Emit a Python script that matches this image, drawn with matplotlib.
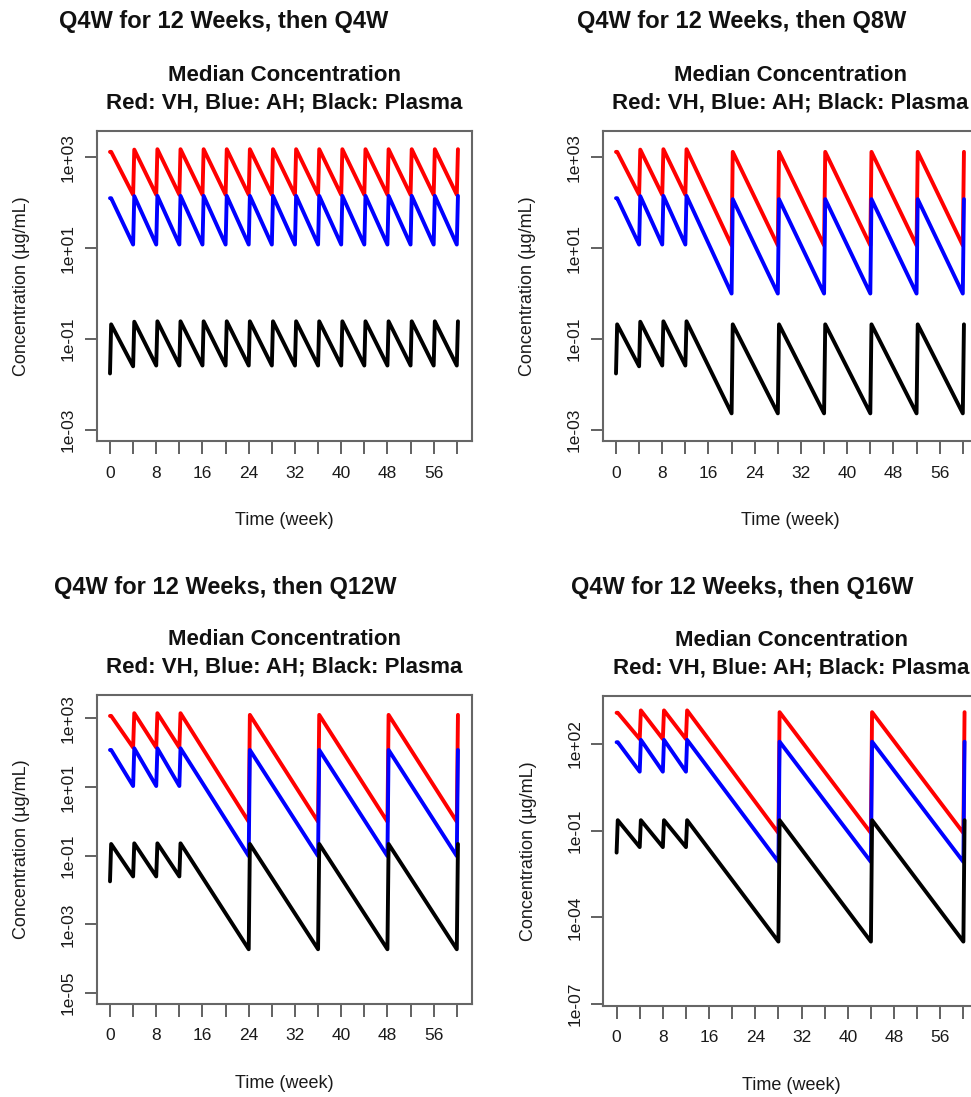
import matplotlib
matplotlib.use('Agg')
import matplotlib.pyplot as plt

plt.rcParams['font.family'] = ['Liberation Sans', 'DejaVu Sans']

## Median concentration simulations: VH (red), AH (blue), plasma (black)
## Q4W loading for 12 weeks, then a longer maintenance interval

# dosing times (week)
doses_q4w = [0, 4, 8, 12, 16, 20, 24, 28, 32, 36, 40, 44, 48, 52, 56, 60]
doses_q8w = [0, 4, 8, 12, 20, 28, 36, 44, 52, 60]
doses_q12w = [0, 4, 8, 12, 24, 36, 48, 60]
doses_q16w = [0, 4, 8, 12, 28, 44, 60]

# concentration (ug/mL) just before each dose ("pre") and peak right after it
vh_pre_q4w = [1320, 150, 150, 150, 150, 150, 150, 150, 150, 150, 150, 150, 150, 150, 150, 150]
vh_peak_q4w = [1320, 1480, 1510, 1510, 1510, 1510, 1510, 1510, 1510, 1510, 1510, 1510, 1510, 1510, 1510, 1510]
ah_pre_q4w = [126, 12, 12, 12, 12, 12, 12, 12, 12, 12, 12, 12, 12, 12, 12, 12]
ah_peak_q4w = [126, 140, 142, 142, 142, 142, 142, 142, 142, 142, 142, 142, 142, 142, 142, 142]
pl_pre_q4w = [0.0174, 0.025, 0.026, 0.026, 0.026, 0.026, 0.026, 0.026, 0.026, 0.026, 0.026, 0.026, 0.026, 0.026, 0.026, 0.026]
pl_peak_q4w = [0.21, 0.24, 0.245, 0.245, 0.245, 0.245, 0.245, 0.245, 0.245, 0.245, 0.245, 0.245, 0.245, 0.245, 0.245, 0.245]

vh_pre_q8w = [1320, 150, 150, 150, 11.5, 11.5, 11.5, 11.5, 11.5, 11.5]
vh_peak_q8w = [1320, 1480, 1510, 1510, 1320, 1320, 1320, 1320, 1320, 1320]
ah_pre_q8w = [126, 12, 12, 12, 1.0, 1.0, 1.0, 1.0, 1.0, 1.0]
ah_peak_q8w = [126, 140, 142, 142, 120, 120, 120, 120, 120, 120]
pl_pre_q8w = [0.0174, 0.025, 0.026, 0.026, 0.0023, 0.0023, 0.0023, 0.0023, 0.0023, 0.0023]
pl_peak_q8w = [0.21, 0.24, 0.245, 0.245, 0.21, 0.21, 0.21, 0.21, 0.21, 0.21]

vh_pre_q12w = [1175, 141, 141, 141, 0.98, 0.98, 0.98, 0.98]
vh_peak_q12w = [1175, 1410, 1410, 1410, 1260, 1260, 1260, 1260]
ah_pre_q12w = [120, 10.7, 10.7, 10.7, 0.098, 0.098, 0.098, 0.098]
ah_peak_q12w = [120, 134, 134, 134, 120, 120, 120, 120]
pl_pre_q12w = [0.018, 0.025, 0.025, 0.025, 0.00019, 0.00019, 0.00019, 0.00019]
pl_peak_q12w = [0.22, 0.23, 0.23, 0.23, 0.22, 0.22, 0.22, 0.22]

vh_pre_q16w = [1200, 148, 148, 148, 0.083, 0.083, 0.083]
vh_peak_q16w = [1200, 1450, 1450, 1450, 1260, 1260, 1260]
ah_pre_q16w = [115, 11, 11, 11, 0.0083, 0.0083, 0.0083]
ah_peak_q16w = [115, 139, 139, 139, 120, 120, 120]
pl_pre_q16w = [0.0174, 0.027, 0.027, 0.027, 0.0000145, 0.0000145, 0.0000145]
pl_peak_q16w = [0.23, 0.23, 0.23, 0.23, 0.23, 0.23, 0.23]

panel_titles = ["Q4W for 12 Weeks, then Q4W", "Q4W for 12 Weeks, then Q8W",
                "Q4W for 12 Weeks, then Q12W", "Q4W for 12 Weeks, then Q16W"]

week_ticks = [0, 4, 8, 12, 16, 20, 24, 28, 32, 36, 40, 44, 48, 52, 56, 60]
week_labels = ['0', '', '8', '', '16', '', '24', '', '32', '', '40', '', '48', '', '56', '']

conc_ticks_top = [1e-3, 1e-1, 1e1, 1e3]
conc_labels_top = ['1e-03', '1e-01', '1e+01', '1e+03']
conc_ticks_q12w = [1e-5, 1e-3, 1e-1, 1e1, 1e3]
conc_labels_q12w = ['1e-05', '1e-03', '1e-01', '1e+01', '1e+03']
conc_ticks_q16w = [1e-7, 1e-4, 1e-1, 1e2]
conc_labels_q16w = ['1e-07', '1e-04', '1e-01', '1e+02']

PEAK_LAG = 0.2   # weeks from dose to peak
W, H = 971, 1097


def sawtooth(doses, pre, peak):
    t, c = [], []
    for d, lo, hi in zip(doses, pre, peak):
        t += [d, d + PEAK_LAG]
        c += [lo, hi]
    return t, c


panels = [
    dict(doses=doses_q4w, vh=(vh_pre_q4w, vh_peak_q4w), ah=(ah_pre_q4w, ah_peak_q4w),
         pl=(pl_pre_q4w, pl_peak_q4w), yt=conc_ticks_top, yl=conc_labels_top,
         ylim=(10 ** -3.24, 10 ** 3.58), box=(96.7, 131.0, 440.7)),
    dict(doses=doses_q8w, vh=(vh_pre_q8w, vh_peak_q8w), ah=(ah_pre_q8w, ah_peak_q8w),
         pl=(pl_pre_q8w, pl_peak_q8w), yt=conc_ticks_top, yl=conc_labels_top,
         ylim=(10 ** -3.24, 10 ** 3.58), box=(602.7, 131.0, 440.7)),
    dict(doses=doses_q12w, vh=(vh_pre_q12w, vh_peak_q12w), ah=(ah_pre_q12w, ah_peak_q12w),
         pl=(pl_pre_q12w, pl_peak_q12w), yt=conc_ticks_q12w, yl=conc_labels_q12w,
         ylim=(10 ** -5.30, 10 ** 3.67), box=(96.7, 695.3, 1003.5)),
    dict(doses=doses_q16w, vh=(vh_pre_q16w, vh_peak_q16w), ah=(ah_pre_q16w, ah_peak_q16w),
         pl=(pl_pre_q16w, pl_peak_q16w), yt=conc_ticks_q16w, yl=conc_labels_q16w,
         ylim=(10 ** -7.05, 10 ** 3.66), box=(603.3, 696.0, 1005.5)),
]
title_pos = [(224, 21.3), (741.7, 21.3), (225, 587.4), (741.7, 587.4)]

fig = plt.figure(figsize=(W / 100, H / 100), dpi=100)
fig.patch.set_facecolor('white')

ax_w = 375.7
for p, title, (tx, ty) in zip(panels, panel_titles, title_pos):
    left, top, bottom = p['box']
    h = bottom - top
    ax = fig.add_axes([left / W, 1 - bottom / H, ax_w / W, h / H])

    for key, col in (('vh', 'red'), ('ah', 'blue'), ('pl', 'black')):
        t, c = sawtooth(p['doses'], *p[key])
        ax.plot(t, c, color=col, lw=2.8, solid_joinstyle='round', solid_capstyle='round')

    ax.set_yscale('log')
    ax.set_xlim(-2.3, 62.7)
    ax.set_ylim(*p['ylim'])
    ax.set_xticks(week_ticks)
    ax.set_xticklabels(week_labels)
    ax.set_yticks(p['yt'])
    ax.set_yticklabels(p['yl'], rotation=90, va='center')
    ax.minorticks_off()
    ax.tick_params(axis='both', length=9, width=1.3, color='#555555',
                   labelsize=12.5, labelcolor='#1a1a1a')
    ax.tick_params(axis='x', pad=9)
    ax.tick_params(axis='y', pad=6)
    for s in ax.spines.values():
        s.set_color('#666666')
        s.set_linewidth(1.5)

    ax.set_xlabel('Time (week)', fontsize=13, color='#1a1a1a', va='center')
    ax.xaxis.set_label_coords(0.5, -80 / h)
    ax.set_ylabel('Concentration (µg/mL)', fontsize=13, color='#1a1a1a', va='center')
    ax.yaxis.set_label_coords(-75 / ax_w, 0.5)

    ax.text(0.5, 1 + 55.5 / h, 'Median Concentration', transform=ax.transAxes,
            ha='center', va='center', fontsize=16, fontweight='bold', color='#111111')
    ax.text(0.5, 1 + 28 / h, 'Red: VH, Blue: AH; Black: Plasma', transform=ax.transAxes,
            ha='center', va='center', fontsize=16, fontweight='bold', color='#111111')

    fig.text(tx / W, 1 - ty / H, title, ha='center', va='center',
             fontsize=17, fontweight='bold', color='#111111')

fig.savefig('out.png', dpi=100)
